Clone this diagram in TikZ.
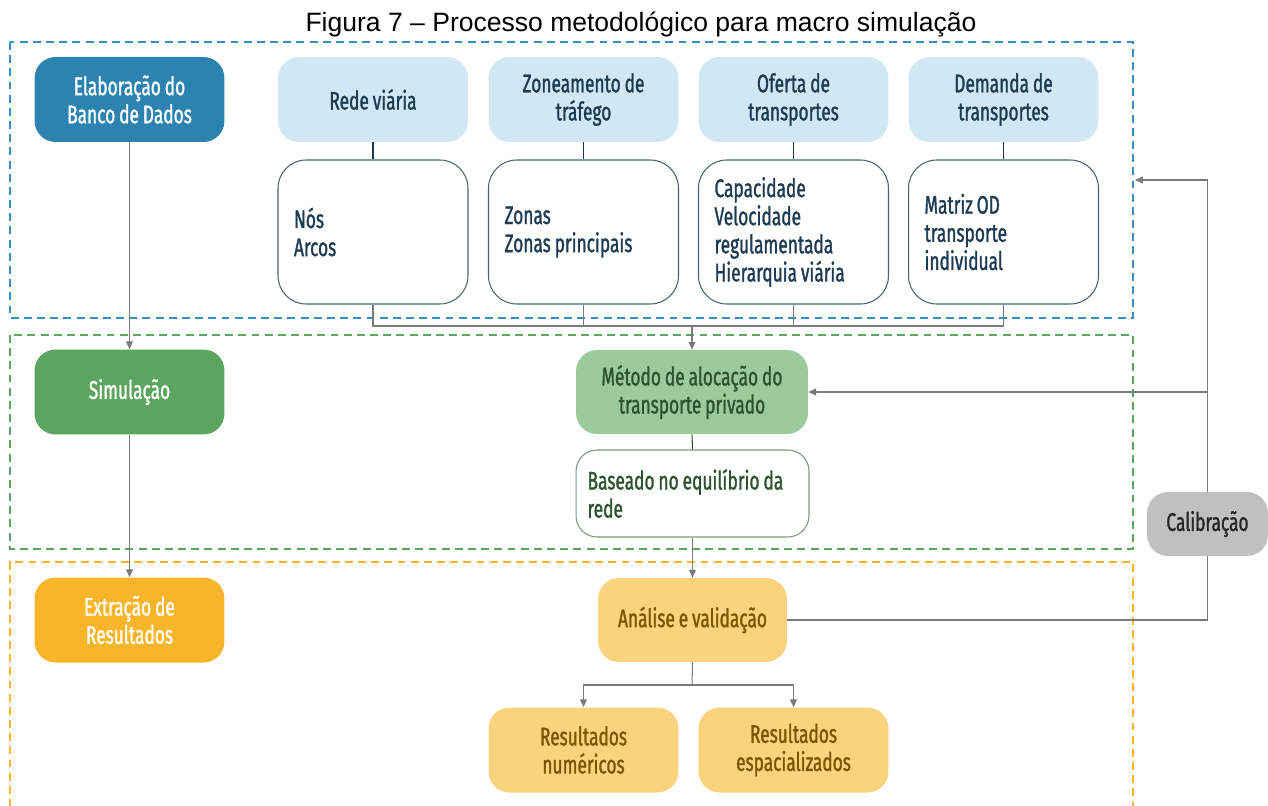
\documentclass[tikz,border=0pt]{standalone}
\usepackage{fontspec}
\usepackage{xcolor}
\usepackage{tikz}
\usetikzlibrary{calc,arrows.meta}
\newfontfamily\titlefont{Liberation Sans}
\newfontfamily\boxfont[FakeStretch=0.68, FakeBold=1.2, WordSpace=0.85]{Fira Sans}

\definecolor{bancoblue}{HTML}{2D83AF}
\definecolor{lightblue}{HTML}{D1E7F3}
\definecolor{navytext}{HTML}{1D3B52}
\definecolor{simgreen}{HTML}{5BA55E}
\definecolor{lightgreen}{HTML}{9BCB9C}
\definecolor{darkgreen}{HTML}{2E5230}
\definecolor{extorange}{HTML}{F9B52A}
\definecolor{lightorange}{HTML}{FAD37E}
\definecolor{browntext}{HTML}{7E5400}
\definecolor{calibgray}{HTML}{C0C0C0}
\definecolor{conngray}{HTML}{7A7A7A}
\definecolor{dashblue}{HTML}{3A8DC0}

\tikzset{
  boxbase/.style={rounded corners=12pt, inner sep=0pt, align=center,
    font=\boxfont\fontsize{14.5}{16}\selectfont},
  stagebox/.style={boxbase, fill=#1, text=white, minimum width=3.8cm, minimum height=1.7cm},
  headbox/.style={boxbase, fill=lightblue, text=navytext, minimum width=3.8cm, minimum height=1.7cm},
  listbox/.style={boxbase, rounded corners=16pt, draw=navytext!80, line width=0.6pt, fill=white,
    text=navytext, align=flush left, text width=3.16cm, inner xsep=0.32cm, minimum height=2.88cm},
  conn/.style={draw=conngray, line width=0.6pt},
  arr/.style={conn, -{Triangle[length=4.5pt,width=4pt]}},
  zone/.style={line width=0.9pt, dash pattern=on 4.5pt off 3pt},
}

\begin{document}
\begin{tikzpicture}[x=0.02cm, y=-0.02cm]
  \useasboundingbox (0,0) rectangle (1268,805);

  \node[font=\titlefont\fontsize{15.1}{17}\selectfont] (title) at (641,25) {Figura 7 – Processo metodológico para macro simulação};

  % dashed zones
  \draw[zone, dashblue] (10,42) rectangle (1133,318);
  \draw[zone, simgreen] (10,335) rectangle (1133,549);
  \draw[zone, extorange] (10,807) -- (10,562) -- (1133,562) -- (1133,807);

  % left column
  \node[stagebox=bancoblue] (banco) at (129.5,99.5) {Elaboração do\\Banco de Dados};
  \node[stagebox=simgreen] (simul) at (129.5,392) {Simulação};
  \node[stagebox=extorange] (extracao) at (129.5,620) {Extração de\\Resultados};

  % database inputs
  \node[headbox] (rede) at (373,99.5) {Rede viária};
  \node[headbox] (zona) at (583.5,99.5) {Zoneamento de\\tráfego};
  \node[headbox] (oferta) at (793.5,99.5) {Oferta de\\transportes};
  \node[headbox] (demanda) at (1003.5,99.5) {Demanda de\\transportes};
  \node[listbox] (redeW) at (373,232) {Nós\\Arcos};
  \node[listbox] (zonaW) at (583.5,232) {Zonas\\Zonas principais};
  \node[listbox] (ofertaW) at (793.5,232) {Capacidade\\Velocidade\\regulamentada\\Hierarquia viária};
  \node[listbox] (demandaW) at (1003.5,232) {Matriz OD\\transporte\\individual};

  % simulation
  \node[boxbase, fill=lightgreen, text=darkgreen, minimum width=4.64cm, minimum height=1.68cm] (metodo) at (692,392) {Método de alocação do\\transporte privado};
  \node[boxbase, rounded corners=12pt, draw=darkgreen!60, line width=0.6pt, fill=white, text=darkgreen,
    align=flush left, text width=4.2cm, inner xsep=0.23cm, minimum height=1.74cm] (baseado) at (692.5,493.5) {Baseado no equilíbrio da\\rede};

  % results
  \node[boxbase, fill=lightorange, text=browntext, minimum width=3.78cm, minimum height=1.68cm] (analise) at (692.5,620) {Análise e validação};
  \node[stagebox=lightorange, text=browntext] (resnum) at (583.5,750) {Resultados\\numéricos};
  \node[stagebox=lightorange, text=browntext] (resesp) at (793.5,750) {Resultados\\espacializados};
  \node[boxbase, fill=calibgray, text=black!85, minimum width=2.42cm, minimum height=1.28cm] (calib) at (1207.5,524) {Calibração};

  \coordinate (junc) at (692,326);
  \coordinate (junc2) at (692,685);
  \coordinate (fb) at (1135,180);

  % connectors
  \draw[arr] (banco) -- (simul);
  \draw[arr] (simul) -- (extracao);
  \foreach \a in {rede,zona,oferta,demanda}
    \draw[conn, draw=navytext] (\a.south) -- (\a W.north);
  \draw[conn] (redeW.south) -- (redeW.south |- junc) -- (demandaW.south |- junc) -- (demandaW.south);
  \draw[conn] (zonaW.south) -- (zonaW.south |- junc);
  \draw[conn] (ofertaW.south) -- (ofertaW.south |- junc);
  \draw[arr] (junc) -- (metodo.north);
  \draw[conn, draw=darkgreen] (metodo.south) -- (baseado.north);
  \draw[arr] (baseado.south) -- (analise.north);
  \draw[conn] (analise.south) -- (junc2);
  \draw[arr] (junc2) -| (resnum.north);
  \draw[arr] (junc2) -| (resesp.north);
  \draw[conn] (analise.east) -| (calib.south);
  \draw[arr] (calib.north) |- (fb);
  \draw[arr] (calib.north |- metodo.east) -- (metodo.east);
\end{tikzpicture}
\end{document}
